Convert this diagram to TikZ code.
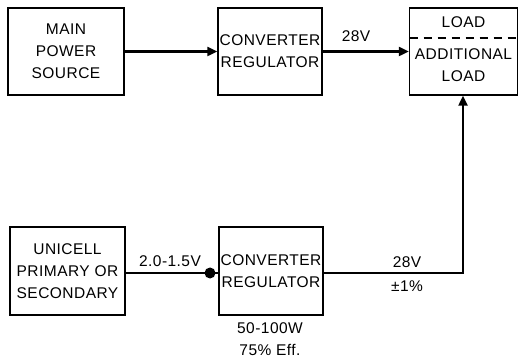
\documentclass[tikz,border=0pt]{standalone}
\usepackage{fontspec}
\setmainfont{Liberation Sans}[LetterSpace=3]
\usetikzlibrary{arrows.meta}
\begin{document}
\begin{tikzpicture}[x=1pt,y=-1pt,
  blk/.style={draw,line width=1.4pt,inner sep=0pt,align=center,font=\fontsize{15.5}{22}\selectfont},
  lbl/.style={inner sep=0pt,align=center,font=\fontsize{15.5}{22}\selectfont},
  conn/.style={line width=2.2pt},
  arr/.style={conn,-{Triangle[length=10pt,width=9pt]}}]
\useasboundingbox (0,0) rectangle (519,363);
\node[blk,minimum width=116pt,minimum height=87pt] (src) at (66,51.5) {MAIN\\POWER\\SOURCE};
\node[blk,minimum width=104pt,minimum height=87pt] (conv1) at (270,51.5) {CONVERTER\\REGULATOR};
\node[blk,minimum width=108pt,minimum height=87pt] (load) at (463.5,51.5) {};
\node[lbl] (loadtxt) at (463.5,22) {LOAD};
\node[lbl] (addtxt) at (463.5,65) {ADDITIONAL\\LOAD};
\coordinate (dl) at (409.5,38);
\coordinate (dr) at (517.5,38);
\draw[line width=1.2pt,dash pattern=on 8pt off 6pt] (dl) -- (dr);
\node[blk,minimum width=115pt,minimum height=88pt] (cell) at (67.5,271) {UNICELL\\PRIMARY OR\\SECONDARY};
\node[blk,minimum width=104pt,minimum height=88pt] (conv2) at (271,271) {CONVERTER\\REGULATOR};
\draw[arr] (src.east) -- (conv1.west);
\draw[arr] (conv1.east) -- (load.west);
\node[lbl] (v28a) at (356,36) {28V};
\coordinate (dot) at (210,273);
\draw[conn] (cell.east |- dot) -- (dot) -- (conv2.west |- dot);
\fill (dot) circle (5.5pt);
\node[lbl] (vin) at (170,261) {2.0-1.5V};
\coordinate (corner) at (463,273);
\draw[arr] (conv2.east |- corner) -- (corner) -- (load.south -| corner);
\node[lbl] (v28b) at (407,262) {28V};
\node[lbl] (tol) at (407,286) {±1\%};
\node[lbl] (pw) at (270,339) {50-100W\\75\% Eff.};
\end{tikzpicture}
\end{document}
